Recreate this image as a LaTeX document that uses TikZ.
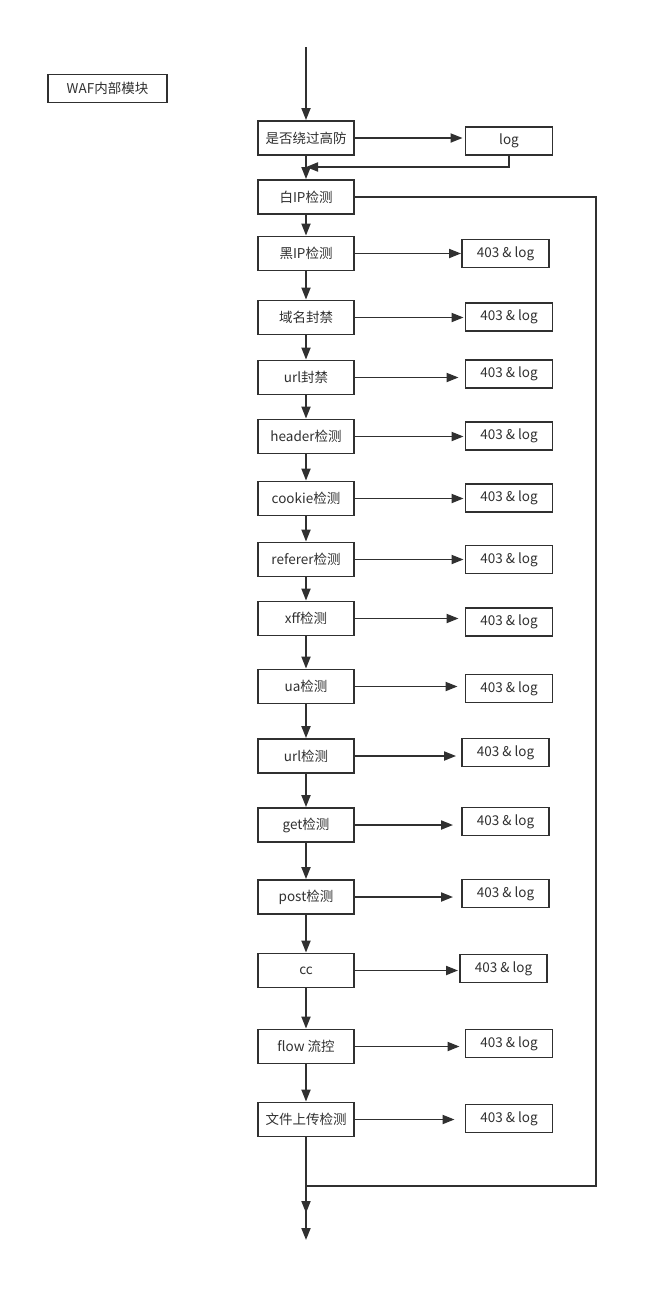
\documentclass[tikz,border=0pt]{standalone}
\usepackage{fontspec}
\setmainfont{Noto Sans CJK SC}
\usetikzlibrary{arrows.meta}
\definecolor{ink}{HTML}{303030}

\begin{document}
\begin{tikzpicture}[x=1pt,y=-1pt,color=ink,line width=1.9pt,
    >={Triangle[length=12pt,width=9pt]},
    font=\fontsize{13.5}{15}\selectfont,
    check/.style={draw,minimum width=96pt,minimum height=34pt,inner sep=0pt},
    result/.style={draw,minimum width=87pt,minimum height=28pt,inner sep=0pt}]
      \useasboundingbox (0,0) rectangle (657,1299);

      \node[result,minimum width=119pt] (waf) at (107.5,88.5) {WAF内部模块};

      \node[check] (bypass)   at (306,138)    {是否绕过高防};
      \node[check] (white-ip) at (306,197)    {白IP检测};
      \node[check] (black-ip) at (306,253.5)  {黑IP检测};
      \node[check] (domain)   at (306,317.5)  {域名封禁};
      \node[check] (url-ban)  at (306,377.5)  {url封禁};
      \node[check] (header)   at (306,436.5)  {header检测};
      \node[check] (cookie)   at (306,498.5)  {cookie检测};
      \node[check] (referer)  at (306,559.5)  {referer检测};
      \node[check] (xff)      at (306,618.5)  {xff检测};
      \node[check] (ua)       at (306,686.5)  {ua检测};
      \node[check] (url)      at (306,756)    {url检测};
      \node[check] (get)      at (306,825)    {get检测};
      \node[check] (post)     at (306,897)    {post检测};
      \node[check] (cc)       at (306,970.5)  {cc};
      \node[check] (flow)     at (306,1046.5) {flow 流控};
      \node[check] (upload)   at (306,1119.5) {文件上传检测};

      \node[result] (log)          at (509,141)    {log};
      \node[result] (black-ip-out) at (505.5,253.5) {403 \& log};
      \node[result] (domain-out)   at (509,317)    {403 \& log};
      \node[result] (url-ban-out)  at (509,374)    {403 \& log};
      \node[result] (header-out)   at (509,436)    {403 \& log};
      \node[result] (cookie-out)   at (509,498)    {403 \& log};
      \node[result] (referer-out)  at (509,559.5)  {403 \& log};
      \node[result] (xff-out)      at (509,622)    {403 \& log};
      \node[result] (ua-out)       at (509,688.5)  {403 \& log};
      \node[result] (url-out)      at (505.5,752.5) {403 \& log};
      \node[result] (get-out)      at (505.5,821.5) {403 \& log};
      \node[result] (post-out)     at (505.5,893.5) {403 \& log};
      \node[result] (cc-out)       at (503.5,968.5) {403 \& log};
      \node[result] (flow-out)     at (509,1043.5) {403 \& log};
      \node[result] (upload-out)   at (509,1118.5) {403 \& log};

      \coordinate (entry)    at (306,47);
      \coordinate (log-back) at (306,167);
      \coordinate (loop-end) at (596,1186);
      \coordinate (join)     at (306,1186);
      \coordinate (pass)     at (306,1213);
      \coordinate (exit)     at (306,1240);

      \draw[->] (entry) -- (bypass);
      \draw[->] (bypass) -- (white-ip);
      \draw[->] (white-ip) -- (black-ip);
      \draw[->] (black-ip) -- (domain);
      \draw[->] (domain) -- (url-ban);
      \draw[->] (url-ban) -- (header);
      \draw[->] (header) -- (cookie);
      \draw[->] (cookie) -- (referer);
      \draw[->] (referer) -- (xff);
      \draw[->] (xff) -- (ua);
      \draw[->] (ua) -- (url);
      \draw[->] (url) -- (get);
      \draw[->] (get) -- (post);
      \draw[->] (post) -- (cc);
      \draw[->] (cc) -- (flow);
      \draw[->] (flow) -- (upload);
      \draw[->] (upload) -- (pass);

      \draw[->,shorten >=2pt] (bypass) -- (bypass -| log.west);
      \draw[->] (log.south) |- (log-back);
      \draw[->] (black-ip) -- (black-ip -| black-ip-out.west);
      \draw[->,shorten >=1pt] (domain) -- (domain -| domain-out.west);
      \draw[->,shorten >=6pt] (url-ban) -- (url-ban -| url-ban-out.west);
      \draw[->,shorten >=1pt] (header) -- (header -| header-out.west);
      \draw[->,shorten >=1pt] (cookie) -- (cookie -| cookie-out.west);
      \draw[->,shorten >=1pt] (referer) -- (referer -| referer-out.west);
      \draw[->,shorten >=6pt] (xff) -- (xff -| xff-out.west);
      \draw[->,shorten >=7pt] (ua) -- (ua -| ua-out.west);
      \draw[->,shorten >=5pt] (url) -- (url -| url-out.west);
      \draw[->,shorten >=8pt] (get) -- (get -| get-out.west);
      \draw[->,shorten >=8pt] (post) -- (post -| post-out.west);
      \draw[->,shorten >=1pt] (cc) -- (cc -| cc-out.west);
      \draw[->,shorten >=5pt] (flow) -- (flow -| flow-out.west);
      \draw[->,shorten >=10pt] (upload) -- (upload -| upload-out.west);

      \draw[->] (white-ip.east) -| (loop-end) -- (join) -- (exit);
    \end{tikzpicture}
\end{document}
